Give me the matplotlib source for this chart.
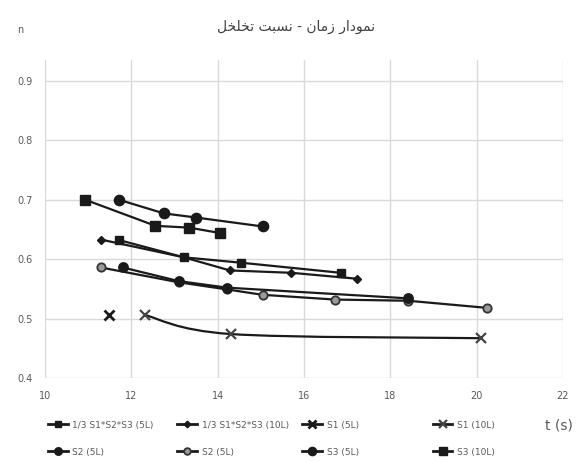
import matplotlib
matplotlib.use("Agg")
import matplotlib.pyplot as plt
from matplotlib.path import Path
from matplotlib.patches import PathPatch
from matplotlib.lines import Line2D

# ---- data -------------------------------------------------------------
t_avg_5 = [11.72, 13.22, 14.54, 16.85]
n_avg_5 = [0.632, 0.603, 0.594, 0.577]

t_avg_10 = [11.29, 13.22, 14.28, 15.71, 17.23]
n_avg_10 = [0.633, 0.603, 0.581, 0.577, 0.567]

t_s1_5 = [11.49]
n_s1_5 = [0.506]

t_s1_10 = [12.31, 14.30, 20.09]
n_s1_10 = [0.506, 0.474, 0.467]

t_s2_5 = [11.80, 13.10, 14.22, 18.41]
n_s2_5 = [0.586, 0.563, 0.552, 0.534]

t_s2_5b = [11.29, 13.10, 14.22, 15.04, 16.71, 18.41, 20.24]
n_s2_5b = [0.586, 0.561, 0.549, 0.540, 0.532, 0.530, 0.518]

t_s3_5 = [11.71, 12.75, 13.50, 15.04]
n_s3_5 = [0.700, 0.677, 0.670, 0.655]

t_s3_10 = [10.93, 12.56, 13.34, 14.05]
n_s3_10 = [0.700, 0.656, 0.653, 0.644]

labels = ["1/3 S1*S2*S3 (5L)", "1/3 S1*S2*S3 (10L)", "S1 (5L)", "S1 (10L)",
          "S2 (5L)", "S2 (5L)", "S3 (5L)", "S3 (10L)"]
x_ticks = [10, 12, 14, 16, 18, 20, 22]
y_ticks = [0.4, 0.5, 0.6, 0.7, 0.8, 0.9]
title_text = "نمودار زمان - نسبت تخلخل"

# ---- minimal Arabic shaping (presentation forms, visual order) --------
FORMS = {  # isolated, final, initial, medial
    "ن": ("\uFEE5", "\uFEE6", "\uFEE7", "\uFEE8"),
    "م": ("\uFEE1", "\uFEE2", "\uFEE3", "\uFEE4"),
    "و": ("\uFEED", "\uFEEE", None, None),
    "د": ("\uFEA9", "\uFEAA", None, None),
    "ا": ("\uFE8D", "\uFE8E", None, None),
    "ر": ("\uFEAD", "\uFEAE", None, None),
    "ز": ("\uFEAF", "\uFEB0", None, None),
    "س": ("\uFEB1", "\uFEB2", "\uFEB3", "\uFEB4"),
    "ب": ("\uFE8F", "\uFE90", "\uFE91", "\uFE92"),
    "ت": ("\uFE95", "\uFE96", "\uFE97", "\uFE98"),
    "خ": ("\uFEA5", "\uFEA6", "\uFEA7", "\uFEA8"),
    "ل": ("\uFEDD", "\uFEDE", "\uFEDF", "\uFEE0"),
}


def shape_arabic(text):
    out = []
    for i, ch in enumerate(text):
        if ch not in FORMS:
            out.append(ch)
            continue
        prev = text[i - 1] if i > 0 else ""
        nxt = text[i + 1] if i + 1 < len(text) else ""
        joins_prev = prev in FORMS and FORMS[prev][2] is not None
        joins_next = nxt in FORMS and FORMS[ch][2] is not None
        iso, fin, ini, med = FORMS[ch]
        if joins_prev and joins_next:
            out.append(med)
        elif joins_prev:
            out.append(fin)
        elif joins_next:
            out.append(ini)
        else:
            out.append(iso)
    return "".join(reversed(out))


def smooth_path(xs, ys):
    """Bezier curve through the points (Catmull-Rom style tangents)."""
    pts = list(zip(xs, ys))
    verts = [pts[0]]
    codes = [Path.MOVETO]
    n = len(pts)
    for i in range(n - 1):
        p0 = pts[i - 1] if i > 0 else pts[i]
        p1 = pts[i]
        p2 = pts[i + 1]
        p3 = pts[i + 2] if i + 2 < n else pts[i + 1]
        c1 = (p1[0] + (p2[0] - p0[0]) / 6, p1[1] + (p2[1] - p0[1]) / 6)
        c2 = (p2[0] - (p3[0] - p1[0]) / 6, p2[1] - (p3[1] - p1[1]) / 6)
        verts += [c1, c2, p2]
        codes += [Path.CURVE4] * 3
    return Path(verts, codes)


# ---- figure -----------------------------------------------------------
fig = plt.figure(figsize=(5.76, 4.62), dpi=100)
ax = fig.add_axes([0.0781, 0.1818, 0.8993, 0.6883])

line_col = "#1a1a1a"
grid_col = "#d9d9d9"
text_col = "#595959"

# (t, n, marker style, smoothed line)
series = [
    (t_avg_5, n_avg_5, dict(marker="s", ms=6.2, mfc=line_col, mec=line_col), False),
    (t_avg_10, n_avg_10, dict(marker="D", ms=4.2, mfc=line_col, mec=line_col), False),
    (t_s1_5, n_s1_5, dict(marker="x", ms=6.5, mew=2.0, mec=line_col), False),
    (t_s1_10, n_s1_10, dict(marker="x", ms=6.5, mew=1.6, mec="#444444"), True),
    (t_s2_5, n_s2_5, dict(marker="o", ms=6.8, mfc=line_col, mec=line_col), False),
    (t_s2_5b, n_s2_5b, dict(marker="o", ms=6.0, mfc="#9a9a9a", mec="#333333", mew=1.3), False),
    (t_s3_5, n_s3_5, dict(marker="o", ms=7.4, mfc=line_col, mec=line_col), False),
    (t_s3_10, n_s3_10, dict(marker="s", ms=6.6, mfc=line_col, mec=line_col), False),
]

draw_order = [5, 4, 1, 0, 3, 2, 7, 6]
handles = [None] * len(series)
for idx in draw_order:
    xs, ys, mk, smooth = series[idx]
    if len(xs) > 1:
        if smooth:
            ax.add_patch(PathPatch(smooth_path(xs, ys), fill=False,
                                   edgecolor=line_col, lw=1.6, zorder=3))
        else:
            ax.plot(xs, ys, color=line_col, lw=1.6, zorder=3)
    ax.plot(xs, ys, linestyle="none", zorder=4, **mk)
    handles[idx] = Line2D([], [], color=line_col, lw=2.0, **mk)

ax.set_xlim(10, 22)
ax.set_ylim(0.4, 0.935)
ax.set_xticks(x_ticks)
ax.set_yticks(y_ticks)
ax.set_xticklabels([str(v) for v in x_ticks])
ax.set_yticklabels([f"{v:.1f}" for v in y_ticks])
ax.grid(True, color=grid_col, lw=1.0)
ax.set_axisbelow(True)
for s in ax.spines.values():
    s.set_visible(False)
ax.tick_params(length=0, labelsize=7, labelcolor=text_col)
ax.tick_params(axis="x", pad=9)
ax.tick_params(axis="y", pad=9)

fig.text(0.514, 0.942, shape_arabic(title_text), ha="center", va="center",
         fontsize=10, color="#404040", family="DejaVu Sans")
fig.text(0.036, 0.935, "n", ha="center", va="center", fontsize=7, color=text_col)
fig.text(0.971, 0.078, "t (s)", ha="center", va="center", fontsize=10, color=text_col)

# legend: four columns, two rows
col_x = [0.083, 0.308, 0.525, 0.751]
for c in range(4):
    fig.legend([handles[c], handles[c + 4]], [labels[c], labels[c + 4]],
               loc="upper left", bbox_to_anchor=(col_x[c], 0.0898),
               frameon=False, fontsize=6.5, handlelength=2.2,
               handletextpad=0.5, labelspacing=2.0, borderpad=0,
               borderaxespad=0, labelcolor=text_col, markerscale=0.8)

fig.savefig("out.png", dpi=100)
